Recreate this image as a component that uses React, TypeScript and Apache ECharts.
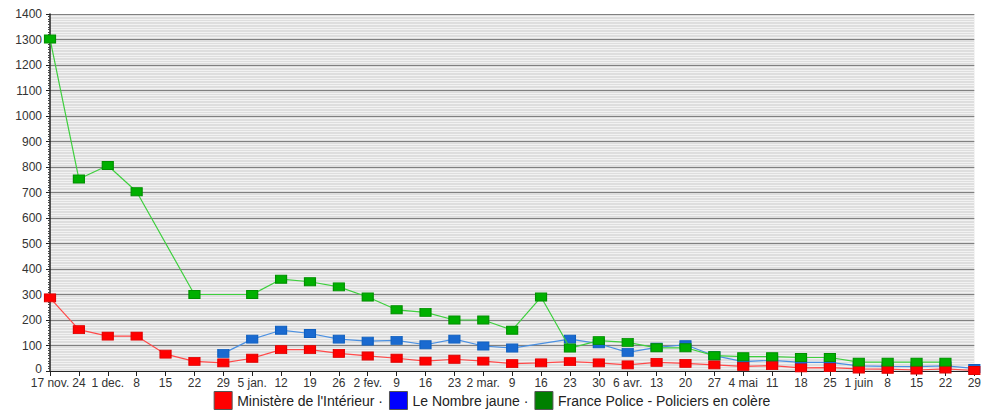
import React, { useEffect, useRef } from "react";
import * as echarts from "echarts";

const categories = [
  "17 nov.", "24", "1 dec.", "8", "15", "22", "29", "5 jan.", "12", "19", "26",
  "2 fev.", "9", "16", "23", "2 mar.", "9", "16", "23", "30", "6 avr.", "13",
  "20", "27", "4 mai", "11", "18", "25", "1 juin", "8", "15", "22", "29",
];

const ministere = [
  287, 162, 137, 137, 66, 38, 32, 50, 84, 84, 69,
  59, 50, 39, 46, 39, 29, 32, 37, 32, 24, 34,
  30, 24, 18, 21, 12, 13, 8, 7, 4, 8, 2,
];

const nombreJaune = [
  null, null, null, null, null, null, 69, 125, 160, 147, 125,
  117, 120, 103, 125, 98, 90, null, 125, 107, 73, 93,
  103, 60, 37, 42, 34, 34, 20, 18, 17, 20, 10,
];

const francePolice = [
  1302, 753, 806, 703, null, 300, null, 300, 360, 350, 330,
  290, 240, 230, 200, 200, 160, 290, 90, 119, 112, 91,
  91, 60, 56, 56, 53, 53, 35, 35, 35, 35, null,
];

const seriesNames = [
  "Ministère de l'Intérieur",
  "Le Nombre jaune",
  "France Police - Policiers en colère",
];

export default function App() {
  const ref = useRef<HTMLDivElement>(null);
  useEffect(() => {
    if (!ref.current) return;
    const chart = echarts.init(ref.current, undefined, { renderer: "svg" });
    const mk = (name: string, data: any[], line: string, fill: string, border: string, z: number) => ({
      name,
      type: "line",
      data,
      connectNulls: true,
      symbol: "rect",
      symbolSize: [11, 8],
      showAllSymbol: true,
      z,
      lineStyle: { color: line, width: 1.2 },
      itemStyle: { color: fill, borderColor: border, borderWidth: 1, opacity: 1 },
      emphasis: { disabled: true },
    });
    chart.setOption({
      animation: false,
      textStyle: { fontFamily: "Liberation Sans, Arial, sans-serif" },
      grid: {
        left: 50,
        right: 4,
        top: 14,
        bottom: 46,
        show: true,
        backgroundColor: "#dedede",
        borderWidth: 0,
      },
      legend: {
        bottom: 2,
        left: "center",
        icon: "rect",
        itemWidth: 18,
        itemHeight: 18,
        itemGap: 6,
        textStyle: { fontSize: 14, color: "#222", fontFamily: "Liberation Sans, Arial, sans-serif" },
        formatter: (n: string) => (n === seriesNames[2] ? n : n + " \u00b7"),
        data: [
          { name: seriesNames[0], itemStyle: { color: "#ff0000", borderColor: "#555", borderWidth: 1 } },
          { name: seriesNames[1], itemStyle: { color: "#0000ff", borderColor: "#555", borderWidth: 1 } },
          { name: seriesNames[2], itemStyle: { color: "#008000", borderColor: "#555", borderWidth: 1 } },
        ],
        selectedMode: false,
      },
      xAxis: {
        type: "category",
        data: categories,
        boundaryGap: false,
        axisLine: { show: true, lineStyle: { color: "#222", width: 1 } },
        axisTick: { show: true, inside: false, length: 5, alignWithLabel: true, lineStyle: { color: "#222" } },
        axisLabel: { interval: 0, color: "#333", fontSize: 12, margin: 6 },
        splitLine: { show: false },
      },
      yAxis: {
        type: "value",
        min: 0,
        max: 1400,
        interval: 100,
        axisLine: { show: true, lineStyle: { color: "#222", width: 1.5 } },
        axisTick: { show: true, length: 4, lineStyle: { color: "#222" } },
        minorTick: { show: true, splitNumber: 10, length: 2, lineStyle: { color: "#444" } },
        minorSplitLine: { show: true, lineStyle: { color: "#f2f2f2", width: 1 } },
        axisLabel: {
          color: "#333",
          fontSize: 12,
          margin: 8,
          formatter: (v: number) => (v === 0 ? "{z|0}" : String(v)),
          rich: { z: { color: "#333", fontSize: 12, padding: [0, 0, 5, 0] } },
        },
        splitLine: { show: true, lineStyle: { color: "#808080", width: 1 } },
      },
      series: [
        mk(seriesNames[0], ministere, "#ff4a4a", "#ff0000", "#e00000", 4),
        mk(seriesNames[1], nombreJaune, "#4a90e2", "#1a6ad0", "#1060c0", 3),
        mk(seriesNames[2], francePolice, "#3ecf3e", "#00b000", "#009000", 5),
      ],
    });
    return () => chart.dispose();
  }, []);
  return <div ref={ref} style={{ width: 984, height: 417, position: "absolute", left: 0, top: 0, background: "#fff" }} />;
}
